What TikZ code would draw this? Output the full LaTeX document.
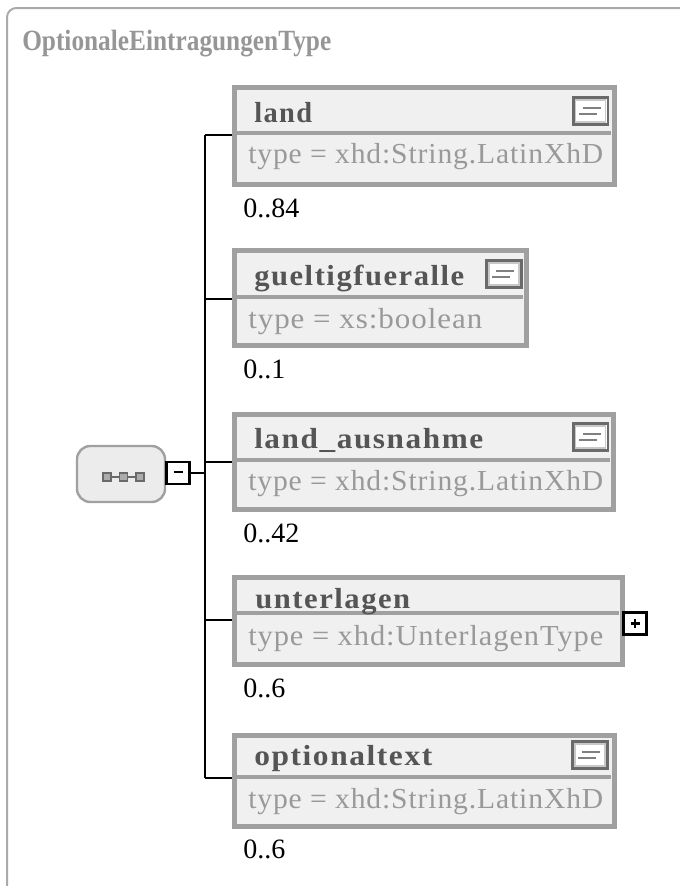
\documentclass[tikz,border=0pt]{standalone}
\usepackage{fontspec}
\usepackage{graphicx}
\setmainfont{Liberation Serif}
\newfontfamily\typefamily[LetterSpace=3]{Liberation Serif}
\newfontfamily\namefamily[LetterSpace=5]{Liberation Serif}
\usetikzlibrary{fit}
\definecolor{framegray}{HTML}{AAAAAA}
\definecolor{boxgray}{HTML}{A0A0A0}
\definecolor{boxfill}{HTML}{F0F0F0}
\definecolor{namegray}{HTML}{555555}
\definecolor{typegray}{HTML}{999999}
\definecolor{titlegray}{HTML}{969696}
\definecolor{icondark}{HTML}{6A6A6A}
\definecolor{iconlight}{HTML}{C8C8C8}
\definecolor{seqfill}{HTML}{ECECEC}
\newcommand\fitw[2]{\resizebox{#1}{\height}{#2}}
\newcommand\nametext[2]{\fitw{#1}{\namefamily\bfseries\fontsize{21.75pt}{24pt}\selectfont #2}}
\newcommand\typetext[2]{\fitw{#1}{\typefamily\fontsize{21.75pt}{24pt}\selectfont #2}}
\tikzset{
  elbox/.style={draw=boxgray, line width=3.5pt, fill=boxfill, inner sep=0pt},
  divider/.style={draw=boxgray, line width=2.3pt},
  conn/.style={draw=black, line width=2.2pt},
  lbl/.style={inner sep=0pt, anchor=base west},
  namelbl/.style={lbl, text=namegray},
  typelbl/.style={lbl, text=typegray},
  cardlbl/.style={lbl, text=black, font=\fontsize{21pt}{24pt}\selectfont},
  docicon/.style={draw=icondark, line width=2pt, fill=white, minimum width=26pt, minimum height=20pt, inner sep=0pt,
    path picture={
      \draw[iconlight, line width=1pt] ([xshift=1.8pt,yshift=1.8pt]path picture bounding box.south west) rectangle ([xshift=-1.8pt,yshift=-1.8pt]path picture bounding box.north east);
      \draw[icondark!85, line width=1.7pt] ([xshift=-6pt,yshift=2.3pt]path picture bounding box.center) -- ([xshift=7.5pt,yshift=2.3pt]path picture bounding box.center);
      \draw[icondark!85, line width=1.7pt] ([xshift=-9pt,yshift=-2.3pt]path picture bounding box.center) -- ([xshift=4.5pt,yshift=-2.3pt]path picture bounding box.center);
    }},
  pmbox/.style={draw=black, line width=1.9pt, fill=white, minimum width=17pt, minimum height=16.5pt, inner sep=0pt},
  seqbox/.style={draw=boxgray, line width=1.8pt, fill=seqfill, rounded corners=10pt, minimum width=66pt, minimum height=42pt, inner sep=0pt},
  seqdot/.style={draw=icondark, fill=iconlight!70!icondark, line width=1.4pt, minimum size=6pt, inner sep=0pt}
}
\begin{document}
\begin{tikzpicture}[x=0.75pt, y=-0.75pt]
\useasboundingbox (0,0) rectangle (679,886);
% outer frame
\draw[framegray, line width=1.5pt, rounded corners=7pt] (7,890) -- (7,8) -- (683,8);
\node[lbl, text=titlegray] (title) at (22,50) {\fitw{231.75pt}{\bfseries\fontsize{22pt}{24pt}\selectfont OptionaleEintragungenType}};

% sequence node
\node[seqbox] (seq) at (121,474) {};
\draw[icondark, line width=1.2pt] (107,477) -- (140,477);
\node[seqdot] (sd1) at (107,477) {};
\node[seqdot] (sd2) at (123.5,477) {};
\node[seqdot] (sd3) at (140,477) {};
\node[pmbox] (minus) at (178,473) {};
\draw[black, line width=2.2pt] (173.5,472) -- (182.5,472);

% bus coordinates
\coordinate (jn) at (205,473);
\coordinate (c1) at (205,135);
\coordinate (c2) at (205,299);
\coordinate (c3) at (205,462);
\coordinate (c4) at (205,620);
\coordinate (c5) at (205,778);

% element boxes
\node[elbox, fit={(234.5,87.5) (614.5,184.5)}] (land) {};
\node[elbox, fit={(234.5,250.5) (526.5,345.5)}] (gueltig) {};
\node[elbox, fit={(234.5,414.5) (613.5,509.5)}] (ausnahme) {};
\node[elbox, fit={(234.5,577.5) (622.5,664.5)}] (unterlagen) {};
\node[elbox, fit={(234.5,735.5) (614.5,826.5)}] (optional) {};

% dividers
\draw[divider] (237,133) -- (611,133);
\draw[divider] (237,297) -- (523,297);
\draw[divider] (237,460) -- (610,460);
\draw[divider] (237,613) -- (619,613);
\draw[divider] (237,777) -- (611,777);

% connectors
\draw[conn] (minus.east) -- (jn);
\draw[conn] (c1) -- (c5);
\draw[conn] (c1) -- (land.west |- c1);
\draw[conn] (c2) -- (gueltig.west |- c2);
\draw[conn] (c3) -- (ausnahme.west |- c3);
\draw[conn] (c4) -- (unterlagen.west |- c4);
\draw[conn] (c5) -- (optional.west |- c5);

% doc icons
\node[docicon] (i1) at (590.5,111) {};
\node[docicon] (i2) at (504,274) {};
\node[docicon] (i3) at (590.5,437) {};
\node[docicon] (i5) at (590,755) {};

% plus box
\node[pmbox] (plus) at (635,623.5) {};
\draw[black, line width=2.2pt] (630.5,623.5) -- (639.5,623.5) (635,619) -- (635,628);

% names
\node[namelbl] (n1) at (254,122) {\nametext{43.5pt}{land}};
\node[namelbl] (n2) at (254,285) {\nametext{157.5pt}{gueltigfueralle}};
\node[namelbl] (n3) at (254,448) {\nametext{171.75pt}{land\_ausnahme}};
\node[namelbl] (n4) at (255,608) {\nametext{116.25pt}{unterlagen}};
\node[namelbl] (n5) at (254,765) {\nametext{133.5pt}{optionaltext}};

% types
\node[typelbl] (t1) at (248,163) {\typetext{266.25pt}{type = xhd:String.LatinXhD}};
\node[typelbl] (t2) at (248,328) {\typetext{175.5pt}{type = xs:boolean}};
\node[typelbl] (t3) at (248,490) {\typetext{266.25pt}{type = xhd:String.LatinXhD}};
\node[typelbl] (t4) at (248,645) {\typetext{266.25pt}{type = xhd:UnterlagenType}};
\node[typelbl] (t5) at (248,808) {\typetext{266.25pt}{type = xhd:String.LatinXhD}};

% cardinalities
\node[cardlbl] (k1) at (243,217) {0..84};
\node[cardlbl] (k2) at (243,378) {0..1};
\node[cardlbl] (k3) at (243,542) {0..42};
\node[cardlbl] (k4) at (243,697) {0..6};
\node[cardlbl] (k5) at (243,858) {0..6};
\end{tikzpicture}
\end{document}
